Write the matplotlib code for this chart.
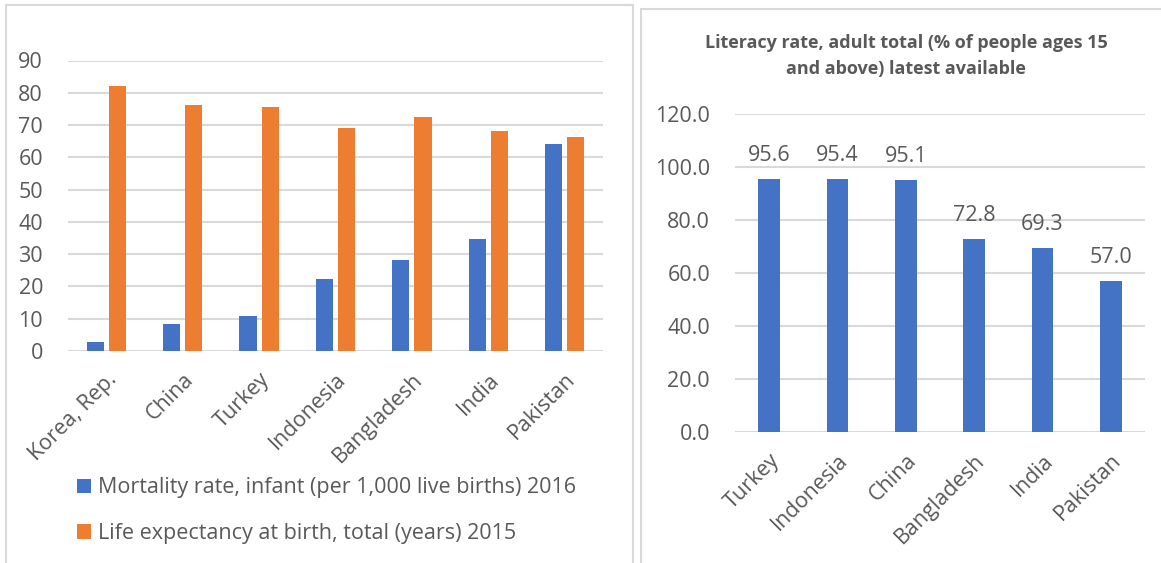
import matplotlib.pyplot as plt
import numpy as np
from matplotlib.patches import Rectangle

plt.rcParams['font.family'] = ['Open Sans', 'DejaVu Sans']

# left chart data
countries_l = ["Korea, Rep.", "China", "Turkey", "Indonesia", "Bangladesh", "India", "Pakistan"]
mortality = [2.9, 8.5, 10.8, 22.2, 28.3, 34.6, 64.2]
life_exp = [82.2, 76.2, 75.5, 69.2, 72.4, 68.2, 66.4]
label_mort = "Mortality rate, infant (per 1,000 live births) 2016"
label_life = "Life expectancy at birth, total (years) 2015"

# right chart data
countries_r = ["Turkey", "Indonesia", "China", "Bangladesh", "India", "Pakistan"]
literacy = [95.6, 95.4, 95.1, 72.8, 69.3, 57.0]
title_r = "Literacy rate, adult total (% of people ages 15\nand above) latest available"

blue = "#4472C4"
orange = "#ED7D31"
grid = "#D9D9D9"
txt = "#595959"

W, H = 1161, 563
fig = plt.figure(figsize=(W / 100, H / 100), dpi=100)

# panel borders
fig.patches.append(Rectangle((6 / W, -0.01), (633 - 6) / W, 1 - 5 / H + 0.01, transform=fig.transFigure,
                             fill=False, edgecolor=grid, linewidth=1.5))
fig.patches.append(Rectangle((641 / W, -0.01), 1.0, 1 - 9 / H + 0.01, transform=fig.transFigure,
                             fill=False, edgecolor=grid, linewidth=1.5))


def style(ax, ticks, fmt):
    ax.set_yticks(ticks)
    ax.set_yticklabels([fmt.format(t) for t in ticks])
    ax.yaxis.grid(True, color=grid, linewidth=1.5)
    ax.set_axisbelow(True)
    for s in ax.spines.values():
        s.set_visible(False)
    ax.tick_params(axis='both', length=0, colors=txt, labelsize=15.5)
    ax.tick_params(axis='y', pad=18)


# left chart
ax1 = fig.add_axes([68 / W, 1 - 351 / H, 535 / W, 290.5 / H])
x = np.arange(len(countries_l))
w = 0.224
off = 0.145
ax1.bar(x - off, mortality, w, color=blue, label=label_mort)
ax1.bar(x + off, life_exp, w, color=orange, label=label_life)
ax1.set_xlim(-0.5, len(countries_l) - 0.5)
ax1.set_ylim(0, 90)
style(ax1, np.arange(0, 91, 10), "{:.0f}")
ax1.set_xticks(x)
ax1.set_xticklabels(countries_l, rotation=45, ha='right', rotation_mode='anchor')
ax1.tick_params(axis='x', pad=13)
ax1.legend(loc='upper left', bbox_to_anchor=(0.0, -0.405), frameon=False, fontsize=15.5,
           labelcolor=txt, handlelength=0.65, handleheight=0.65, handletextpad=0.35,
           labelspacing=1.15, borderaxespad=0)

# right chart
ax2 = fig.add_axes([735 / W, 1 - 432 / H, 410 / W, 318 / H])
x2 = np.arange(len(countries_r))
bars = ax2.bar(x2, literacy, 0.313, color=blue)
ax2.set_xlim(-0.5, len(countries_r) - 0.5)
ax2.set_ylim(0, 120)
style(ax2, np.arange(0, 121, 20), "{:.1f}")
ax2.set_xticks(x2)
ax2.set_xticklabels(countries_r, rotation=45, ha='right', rotation_mode='anchor')
ax2.tick_params(axis='x', pad=13)
for xi, v in zip(x2, literacy):
    ax2.annotate(f"{v:.1f}", (xi, v), xytext=(0, 17), textcoords='offset points',
                 ha='center', va='center', fontsize=15.5, color=txt)

fig.text(906 / W, 1 - 56 / H, title_r, ha='center', va='center', fontsize=13,
         fontweight='bold', color=txt, linespacing=1.6)

fig.savefig("out.png", dpi=100)
